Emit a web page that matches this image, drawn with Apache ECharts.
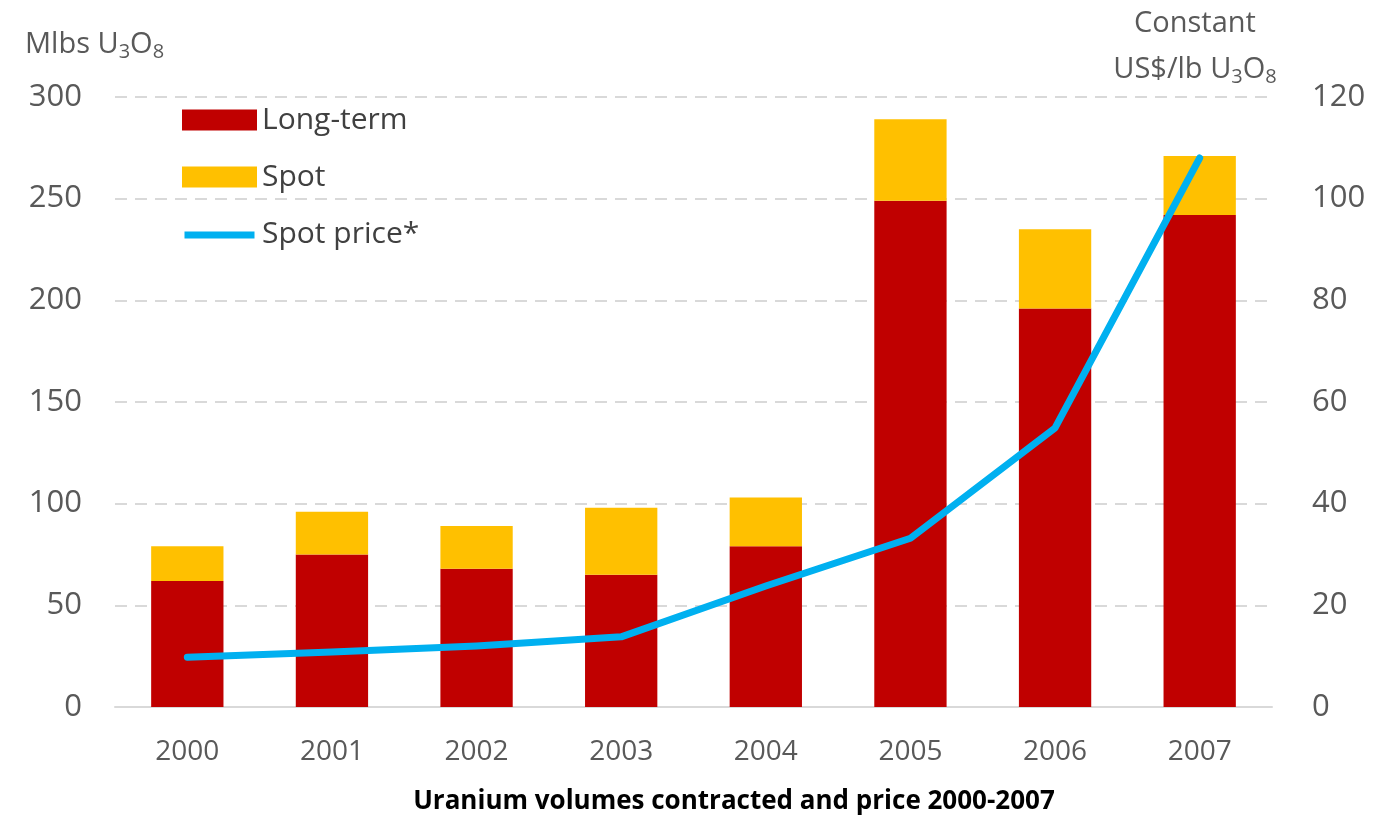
<!DOCTYPE html>
<html>
<head>
<meta charset="utf-8">
<script src="https://cdn.jsdelivr.net/npm/echarts@6/dist/echarts.min.js"></script>
<style>html,body{margin:0;padding:0;background:#fff;}#c{width:1393px;height:817px;}</style>
</head>
<body>
<div id="c"></div>
<script>
const years = ['2000','2001','2002','2003','2004','2005','2006','2007'];
const longTerm = [62, 75, 68, 65, 79, 249, 196, 242];
const spot = [17, 21, 21, 33, 24, 40, 39, 29];
const spotPrice = [9.8, 10.8, 12.0, 13.8, 23.8, 33.2, 54.9, 108];
const leftTicks = [0, 50, 100, 150, 200, 250, 300];
const rightTicks = [0, 20, 40, 60, 80, 100, 120];

const font = '"Open Sans", "Liberation Sans", sans-serif';
const chart = echarts.init(document.getElementById('c'), null, {renderer: 'canvas'});
const sub = {fontSize: 20, fontFamily: font, color: '#595959', padding: [14, 0, 0, 0]};
chart.setOption({
  animation: false,
  backgroundColor: '#fff',
  textStyle: {fontFamily: font},
  title: {
    text: 'Uranium volumes contracted and price 2000-2007',
    left: 729, textAlign: 'center', top: 784,
    textStyle: {fontSize: 26, fontWeight: 'bold', color: '#000', fontFamily: font}
  },
  grid: {left: 115, right: 121, top: 97, bottom: 110, containLabel: false, outerBoundsMode: 'none'},
  legend: {
    orient: 'vertical', left: 177, top: 100, itemWidth: 75, itemHeight: 21, itemGap: 27,
    textStyle: {fontSize: 30, lineHeight: 21, color: '#404040', fontFamily: font, padding: [0, 0, 0, 0]},
    data: [
      {name: 'Long-term', icon: 'rect'},
      {name: 'Spot', icon: 'rect'},
      {name: 'Spot price*', icon: 'path://M0,0 M0,9 L80,9 L80,17 L0,17 Z M80,24', itemStyle: {color: '#00B0F0'}}
    ]
  },
  xAxis: {
    type: 'category', data: years,
    axisLine: {lineStyle: {color: '#d9d9d9', width: 2}},
    axisTick: {show: false},
    axisLabel: {fontSize: 28, color: '#595959', margin: 31, fontFamily: font}
  },
  yAxis: [{
    type: 'value', min: 0, max: 300, interval: 50,
    name: '{a|Mlbs U}{s|3}{a|O}{s|8}',
    nameLocation: 'end', nameGap: 37, nameMoveOverlap: false,
    nameTextStyle: {align: 'left', lineHeight: 30, padding: [0, 0, 0, -90], rich: {a: {fontSize: 29, lineHeight: 30, color: '#595959', fontFamily: font}, s: sub}},
    axisLine: {show: false}, axisTick: {show: false},
    axisLabel: {fontSize: 31, color: '#595959', margin: 33, align: 'right', fontFamily: font, customValues: leftTicks},
    splitLine: {lineStyle: {color: '#d9d9d9', type: [12, 8], width: 2}}
  }, {
    type: 'value', min: 0, max: 120, interval: 20,
    name: '{a|Constant}\n{a|US$/lb U}{s|3}{a|O}{s|8}',
    nameLocation: 'end', nameGap: 4, nameMoveOverlap: false,
    nameTextStyle: {align: 'center', padding: [0, 154, 0, 0], lineHeight: 46, rich: {a: {fontSize: 29, lineHeight: 46, color: '#595959', fontFamily: font}, s: sub}},
    axisLine: {show: false}, axisTick: {show: false},
    axisLabel: {fontSize: 31, color: '#595959', margin: 40, fontFamily: font, customValues: rightTicks},
    splitLine: {show: false}
  }],
  series: [{
    name: 'Long-term', type: 'bar', stack: 'v', data: longTerm, barWidth: '50%',
    itemStyle: {color: '#C00000'}
  }, {
    name: 'Spot', type: 'bar', stack: 'v', data: spot, barWidth: '50%',
    itemStyle: {color: '#FFC000'}
  }, {
    name: 'Spot price*', type: 'line', yAxisIndex: 1, data: spotPrice,
    symbol: 'none', smooth: false,
    lineStyle: {color: '#00B0F0', width: 7, cap: 'round', join: 'round'},
    itemStyle: {color: '#00B0F0'}
  }]
});
</script>
</body>
</html>
